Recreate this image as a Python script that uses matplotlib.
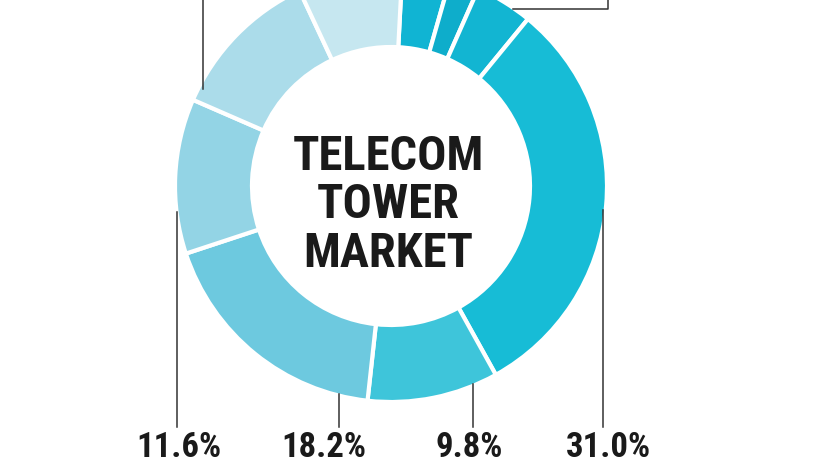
import matplotlib
matplotlib.use('Agg')
import matplotlib.pyplot as plt
from matplotlib import font_manager

# cuotas del mercado (%), en sentido horario desde arriba
shares = [3.6, 2.2, 4.3, 31.0, 9.8, 18.2, 11.6, 11.5, 7.8]
colors = ['#10b4d3', '#0eadcb', '#12b5d2', '#17bcd6', '#3ec5da',
          '#6dc9df', '#93d4e5', '#abdcea', '#c6e7f0']

# etiquetas visibles abajo
bottom_labels = ['11.6%', '18.2%', '9.8%', '31.0%']
title_lines = ['TELECOM', 'TOWER', 'MARKET']

W, H = 826, 465

# fuente estrecha si existe
names = set(f.name for f in font_manager.fontManager.ttflist)
font = 'DejaVu Sans'
for cand in ['Roboto Condensed', 'Liberation Sans Narrow', 'Open Sans Condensed']:
    if cand in names:
        font = cand
        break

def py(y):  # pixel y (desde arriba) a coordenada de datos
    return H - y

fig = plt.figure(figsize=(W / 100, H / 100), dpi=100)
ax = fig.add_axes([0, 0, 1, 1])

cx, cy, R = 391, py(186), 216
ax.pie(shares, colors=colors, startangle=87, counterclock=False,
       center=(cx, cy), radius=R,
       wedgeprops=dict(width=77, edgecolor='white', linewidth=3))
ax.set_xlim(0, W)
ax.set_ylim(0, H)
ax.set_aspect('auto')
ax.axis('off')

# titulo central
for i, t in enumerate(title_lines):
    ax.text(388, py(170 + i * 48.5), t, ha='center', va='baseline',
            fontsize=35, fontweight='bold', family=font, fontstretch='condensed',
            color='#1a1a1a')

# etiquetas inferiores y sus lineas
label_x = [179, 324, 469, 608]
line_x = [177, 339, 473, 603]
line_top = [212, 394, 384, 210]
for lab, tx, lx, ly in zip(bottom_labels, label_x, line_x, line_top):
    ax.plot([lx, lx], [py(ly), py(427)], color='#333333', lw=1.1)
    ax.text(tx, py(464), lab, ha='center', va='bottom', fontsize=25,
            fontweight='bold', family=font, fontstretch='condensed', color='#1a1a1a')

# lineas de las etiquetas cortadas arriba
ax.plot([203, 203], [py(0), py(89)], color='#333333', lw=1.1)
ax.plot([513, 608, 608], [py(9), py(9), py(0)], color='#333333', lw=1.1)

fig.savefig('out.png', dpi=100)
